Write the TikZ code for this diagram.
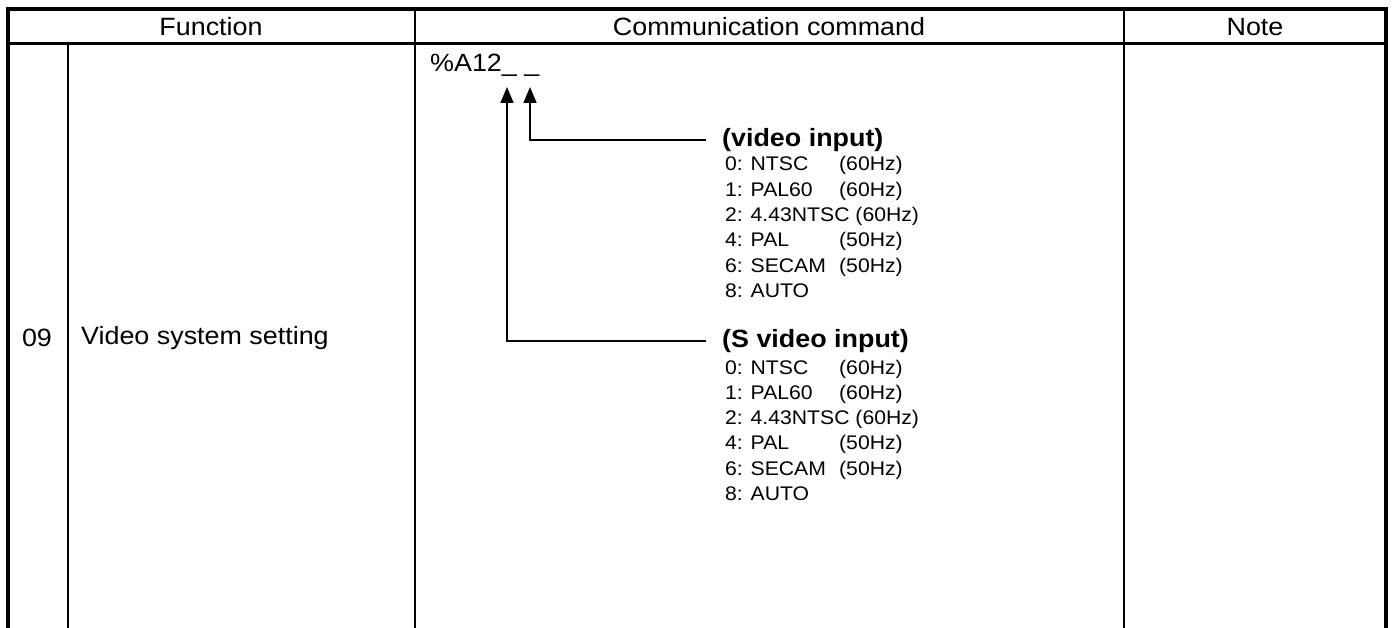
\documentclass[tikz,border=0pt]{standalone}
\usepackage{fontspec}
\setmainfont{Liberation Sans}[FakeStretch=1.075]
\usetikzlibrary{arrows.meta}

\begin{document}
\begin{tikzpicture}
  [x=1pt,y=-1pt,
   frame/.style={line width=4pt},
   rule/.style={line width=3pt},
   col/.style={line width=2.2pt},
   conn/.style={line width=1.6pt,-{Triangle[length=16pt,width=13pt]}},
   every node/.style={inner sep=0pt,font=\fontsize{25}{30}\selectfont},
   item/.style={anchor=base west,font=\fontsize{19.7}{24}\selectfont},
   head/.style={anchor=west,font=\fontsize{25}{30}\selectfont\bfseries}]
  \useasboundingbox (0,0) rectangle (1394,628);
  % table frame
  \draw[frame] (8,628) -- (8,9) -- (1386,9) -- (1386,628);
  \draw[rule] (8,44) -- (1386,44);
  \draw[col] (68,44) -- (68,628);
  \draw[col] (415,9) -- (415,628);
  \draw[col] (1124,9) -- (1124,628);
  % header
  \node (fn) at (211,27) {Function};
  \node (cc) at (769,27) {Communication command};
  \node (nt) at (1255,27) {Note};
  % row 09
  \node (no) at (37,338) {09};
  \node[anchor=west] (vs) at (81,338) {Video system setting};
  \node[anchor=base west] (cmd) at (430,72) {\%A12\_ \_};
  \coordinate (u1) at (507,87);
  \coordinate (u2) at (530,87);
  \node[head] (vin) at (722,140) {(video input)};
  \node[head] (svin) at (722,341) {(S video input)};
  \draw[conn] ([xshift=-16pt]vin.west) -| (u2);
  \draw[conn] ([xshift=-16pt]svin.west) -| (u1);
  \foreach \mode/\hz [count=\i from 0] in {{0: NTSC}/{(60Hz)},{1: PAL60}/{(60Hz)},{2: 4.43NTSC (60Hz)}/{},{4: PAL}/{(50Hz)},{6: SECAM}/{(50Hz)},{8: AUTO}/{}}
  {
    \node[item] (v\i) at (725,171+25.3*\i) {\makebox[114pt][l]{\mode}\hz};
    \node[item] (s\i) at (725,374+25.3*\i) {\makebox[114pt][l]{\mode}\hz};
  }
\end{tikzpicture}
\end{document}
